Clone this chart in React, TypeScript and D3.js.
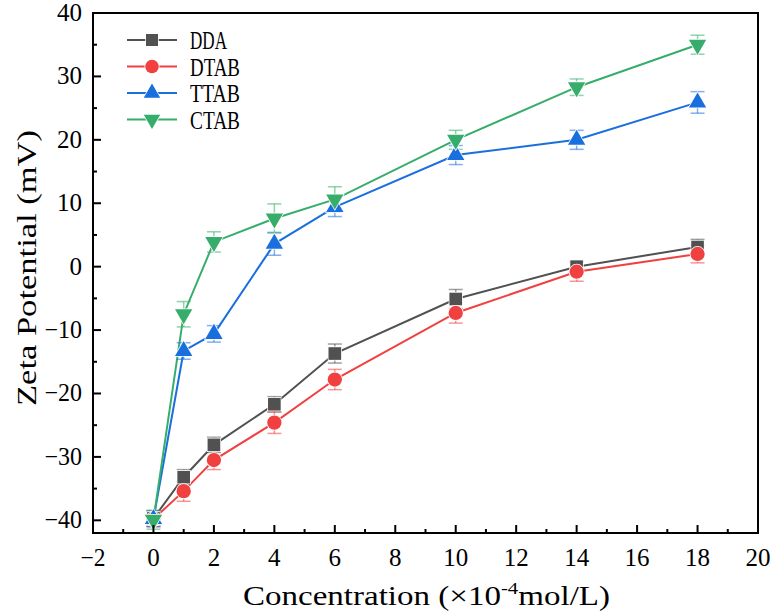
import React from "react";
import * as d3 from "d3";

const concentrations = [0, 1, 2, 4, 6, 10, 14, 18];
const seriesNames = ["DDA", "DTAB", "TTAB", "CTAB"];
const ddaValues = [-39.7, -33.2, -28.1, -21.7, -13.7, -5.1, 0.0, 3.1];
const dtabValues = [-39.8, -35.4, -30.5, -24.6, -17.8, -7.3, -0.8, 2.0];
const ttabValues = [-39.8, -13.3, -10.6, 3.6, 9.4, 17.6, 20.0, 25.9];
const ctabValues = [-39.9, -7.5, 3.9, 7.6, 10.6, 20.0, 28.3, 35.0];
const ddaErrors = [1.2, 1.2, 1.2, 1.2, 1.5, 1.5, 0.8, 1.2];
const dtabErrors = [1.2, 1.6, 1.5, 1.7, 1.6, 1.6, 1.5, 1.4];
const ttabErrors = [1.2, 1.3, 1.3, 1.8, 1.5, 1.5, 1.5, 1.7];
const ctabErrors = [1.5, 2.0, 1.6, 2.3, 2.0, 1.5, 1.3, 1.5];
const xTicks = [-2, 0, 2, 4, 6, 8, 10, 12, 14, 16, 18, 20];
const yTicks = [-40, -30, -20, -10, 0, 10, 20, 30, 40];

const colors = ["#515151", "#F14040", "#1A6FDF", "#37AD6B"];
const symbols = [d3.symbolSquare, d3.symbolCircle, d3.symbolTriangle, d3.symbolTriangle];
const symbolSizes = [160, 160, 130, 130];
const rotations = [0, 0, 0, 180];

const W = 773, H = 614;
const left = 93, right = 758, top = 13, bottom = 533;
const FONT = "Liberation Serif";

function label(v: number) {
  return v < 0 ? "\u2212" + Math.abs(v) : String(v);
}

export default function App() {
  const x = d3.scaleLinear().domain([-2, 20]).range([left, right]);
  const y = d3.scaleLinear().domain([-42, 40]).range([bottom, top]);
  const allValues = [ddaValues, dtabValues, ttabValues, ctabValues];
  const allErrors = [ddaErrors, dtabErrors, ttabErrors, ctabErrors];
  const line = d3.line<[number, number]>().x(d => x(d[0])).y(d => y(d[1]));
  const xMinor = d3.range(-2, 20.01, 1);
  const yMinor = d3.range(-40, 40.01, 5);
  const tstyle = { fontFamily: FONT } as React.CSSProperties;

  return (
    <svg width={W} height={H} style={{ position: "absolute", left: 0, top: 0, background: "#fff" }}>
      <rect x={0} y={0} width={W} height={H} fill="#fff" />
      {allValues.map((vals, si) => {
        const pts = concentrations.map((c, i) => [c, vals[i]] as [number, number]);
        return <path key={si} d={line(pts) || ""} fill="none" stroke={colors[si]} strokeWidth={2} />;
      })}
      {allValues.map((vals, si) => (
        <g key={"e" + si} stroke={colors[si]} strokeOpacity={0.55} strokeWidth={1.5}>
          {concentrations.map((c, i) => {
            const cx = x(c);
            const y1 = y(vals[i] + allErrors[si][i]);
            const y2 = y(vals[i] - allErrors[si][i]);
            return (
              <g key={i}>
                <line x1={cx} x2={cx} y1={y1} y2={y2} />
                <line x1={cx - 7} x2={cx + 7} y1={y1} y2={y1} />
                <line x1={cx - 7} x2={cx + 7} y1={y2} y2={y2} />
              </g>
            );
          })}
        </g>
      ))}
      {allValues.map((vals, si) => {
        const sym = d3.symbol().type(symbols[si]).size(symbolSizes[si])();
        return (
          <g key={"m" + si}>
            {concentrations.map((c, i) => (
              <path key={i} d={sym || ""} transform={`translate(${x(c)},${y(vals[i])}) rotate(${rotations[si]})`}
                fill={colors[si]} stroke="#fff" strokeWidth={1.5} paintOrder="stroke" />
            ))}
          </g>
        );
      })}
      <rect x={left} y={top} width={right - left} height={bottom - top} fill="none" stroke="#000" strokeWidth={2} />
      {xMinor.map(v => {
        const major = Math.abs(v % 2) < 1e-6;
        return <line key={"xt" + v} x1={x(v)} x2={x(v)} y1={bottom} y2={bottom - (major ? 8 : 4)} stroke="#000" strokeWidth={2} />;
      })}
      {yMinor.map(v => {
        const major = Math.abs(v % 10) < 1e-6;
        return <line key={"yt" + v} x1={left} x2={left + (major ? 8 : 4)} y1={y(v)} y2={y(v)} stroke="#000" strokeWidth={2} />;
      })}
      {xTicks.map(v => {
        const s = label(v);
        return (
          <text key={"xl" + v} x={x(v)} y={566} textAnchor="middle" fontSize={25} fill="#000" style={tstyle}
            textLength={s.length * 12.5} lengthAdjust="spacingAndGlyphs">{s}</text>
        );
      })}
      {yTicks.map(v => {
        const s = label(v);
        return (
          <text key={"yl" + v} x={82} y={y(v) + 8} textAnchor="end" fontSize={25} fill="#000" style={tstyle}
            textLength={s.length * 12.5} lengthAdjust="spacingAndGlyphs">{s}</text>
        );
      })}
      <text x={243} y={605} fontSize={27} fill="#000" style={tstyle} textLength={367} lengthAdjust="spacingAndGlyphs">
        Concentration (×10<tspan dy={-11} fontSize={17}>-4</tspan><tspan dy={11}>mol/L)</tspan>
      </text>
      <text transform={`translate(36,${406}) rotate(-90)`} fontSize={27} fill="#000" style={tstyle} textLength={276} lengthAdjust="spacingAndGlyphs">
        Zeta Potential (mV)
      </text>
      {seriesNames.map((name, si) => {
        const ly = 40 + si * 26.5;
        const sym = d3.symbol().type(symbols[si]).size(symbolSizes[si] * 0.9)();
        return (
          <g key={"lg" + si}>
            <line x1={127} x2={177} y1={ly} y2={ly} stroke={colors[si]} strokeWidth={2} />
            <path d={sym || ""} transform={`translate(152,${ly}) rotate(${rotations[si]})`} fill={colors[si]} stroke="#fff" strokeWidth={1.5} paintOrder="stroke" />
            <text x={190} y={ly + 9} fontSize={25} fill="#000" style={tstyle} textLength={name.length === 3 ? 37 : 50} lengthAdjust="spacingAndGlyphs">{name}</text>
          </g>
        );
      })}
    </svg>
  );
}
